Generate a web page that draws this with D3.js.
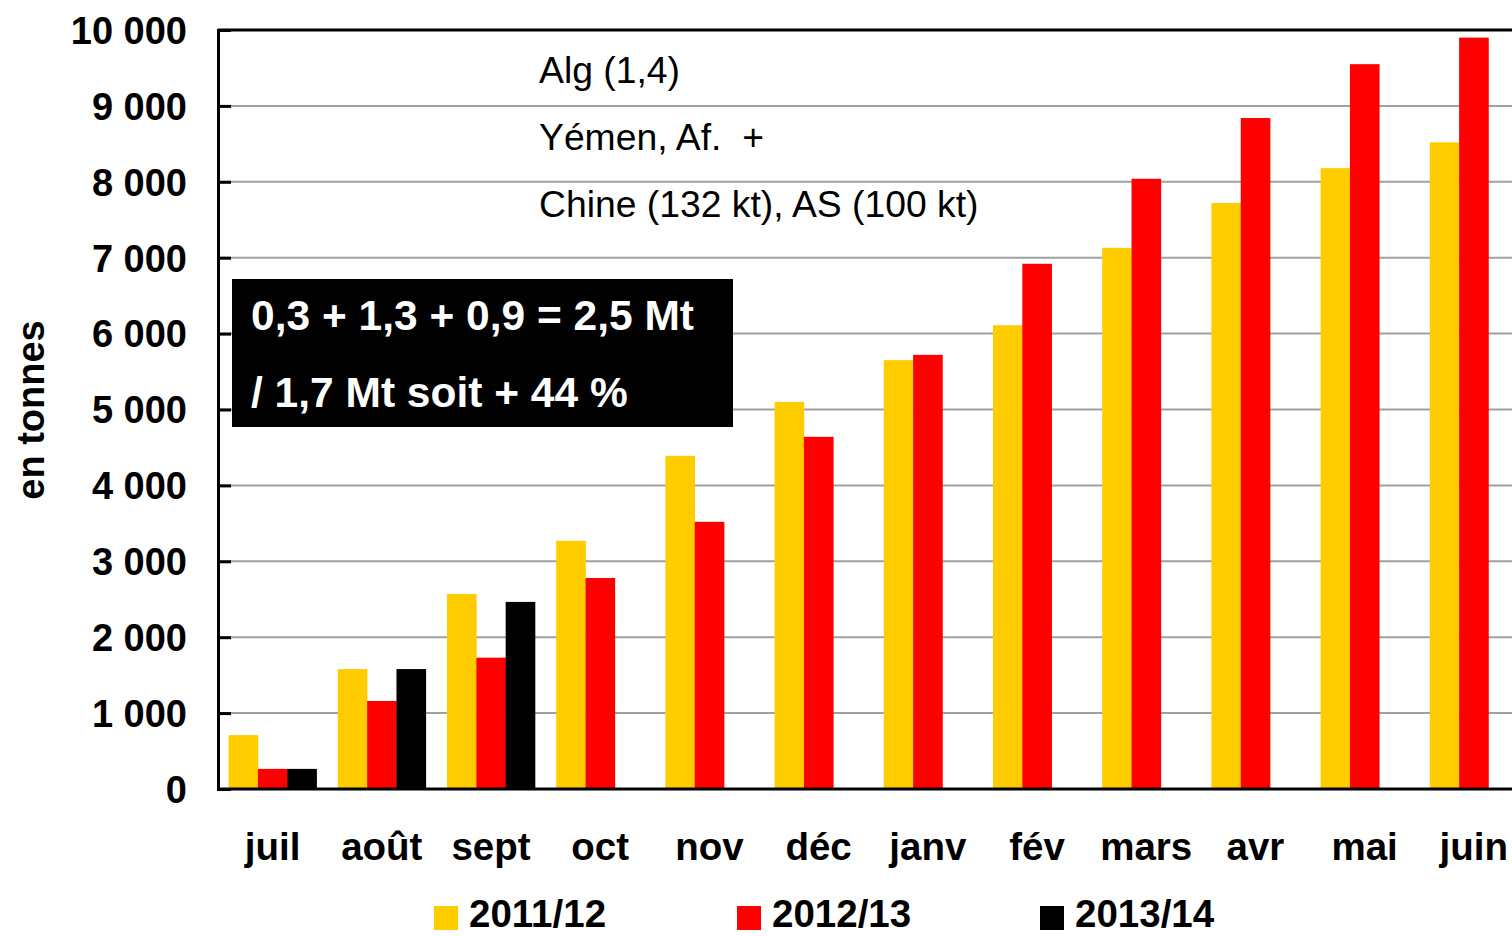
<!DOCTYPE html>
<html>
<head>
<meta charset="utf-8">
<script src="https://cdn.jsdelivr.net/npm/d3@7"></script>
<style>
html,body{margin:0;padding:0;background:#fff;overflow:hidden;}
svg{display:block;font-family:"Liberation Sans",Arial,sans-serif;}
</style>
</head>
<body>
<svg id="chart" width="1512" height="936"></svg>
<script>
const months = ["juil","août","sept","oct","nov","déc","janv","fév","mars","avr","mai","juin"];
const seriesNames = ["2011/12","2012/13","2013/14"];
const seriesColors = ["#FFCC00","#FF0000","#000000"];
const v2011 = [710,1580,2570,3270,4390,5100,5650,6110,7130,7720,8180,8520];
const v2012 = [265,1160,1730,2780,3520,4640,5720,6920,8040,8840,9550,9900];
const v2013 = [265,1580,2465,null,null,null,null,null,null,null,null,null];
const yTicks = [0,1000,2000,3000,4000,5000,6000,7000,8000,9000,10000];
const yTitle = "en tonnes";
const noteLines = ["Alg (1,4)","Yémen, Af.  +","Chine (132 kt), AS (100 kt)"];
const boxLines = ["0,3 + 1,3 + 0,9 = 2,5 Mt","/ 1,7 Mt soit + 44 %"];

const allSeries = [v2011,v2012,v2013];
const svg = d3.select("#chart");
const pLeft = 218, pTop = 30, pBottom = 789, pRight = 218 + 12*109.2;

const x = d3.scaleBand().domain(months).range([pLeft,pRight]).paddingInner(0.194).paddingOuter(0.097);
const xs = d3.scaleBand().domain(seriesNames).range([0,x.bandwidth()]).padding(0);
const y = d3.scaleLinear().domain([0,10000]).range([pBottom,pTop]);

// gridlines
svg.append("g").selectAll("line").data(yTicks.filter(t=>t>0 && t<10000)).join("line")
  .attr("x1",pLeft).attr("x2",1512).attr("y1",d=>y(d)).attr("y2",d=>y(d))
  .attr("stroke","#a0a0a0").attr("stroke-width",2);

// bars
const rows = [];
months.forEach((m,i)=>{
  seriesNames.forEach((s,j)=>{
    const v = allSeries[j][i];
    if(v!=null) rows.push({m,s,v,c:seriesColors[j]});
  });
});
svg.append("g").selectAll("rect").data(rows).join("rect")
  .attr("x",d=>x(d.m)+xs(d.s)).attr("width",xs.bandwidth()+0.3)
  .attr("y",d=>y(d.v)).attr("height",d=>y(0)-y(d.v))
  .attr("fill",d=>d.c);

// top border
svg.append("line").attr("x1",pLeft).attr("x2",1512).attr("y1",pTop).attr("y2",pTop)
  .attr("stroke","#000").attr("stroke-width",3);

// y axis
const yAxis = d3.axisLeft(y).tickValues(yTicks).tickSize(-13).tickPadding(31)
  .tickFormat(d=>d3.format(",")(d).replace(/,/g," "));
const gy = svg.append("g").attr("transform",`translate(${pLeft},0)`).call(yAxis);
gy.select(".domain").attr("stroke","#000").attr("stroke-width",3);
gy.selectAll(".tick line").attr("stroke","#000").attr("stroke-width",3);
gy.selectAll(".tick text").attr("font-family","'Liberation Sans',Arial,sans-serif")
  .attr("font-size",38).attr("font-weight","bold").attr("fill","#000").attr("dy","0.35em");

// x axis
const xAxis = d3.axisBottom(x).tickSize(0).tickPadding(0);
const gx = svg.append("g").attr("transform",`translate(0,${pBottom})`).call(xAxis);
gx.select(".domain").remove();
gx.append("line").attr("x1",pLeft).attr("x2",1512).attr("y1",0).attr("y2",0)
  .attr("stroke","#000").attr("stroke-width",3);
gx.selectAll(".tick text").attr("font-family","'Liberation Sans',Arial,sans-serif")
  .attr("font-size",38.5).attr("font-weight","bold").attr("fill","#000")
  .attr("y",71).attr("dy",0);

// y title
svg.append("text").attr("transform","translate(44,410) rotate(-90)")
  .attr("text-anchor","middle").attr("font-size",38).attr("font-weight","bold")
  .attr("fill","#000").text(yTitle);

// notes
svg.append("g").selectAll("text").data(noteLines).join("text")
  .attr("x",539).attr("y",(d,i)=>83+i*67).attr("font-size",37.3).attr("fill","#000")
  .attr("xml:space","preserve").style("white-space","pre").text(d=>d);

// black box
svg.append("rect").attr("x",232).attr("y",279).attr("width",501).attr("height",148).attr("fill","#000");
svg.append("g").selectAll("text").data(boxLines).join("text")
  .attr("x",251).attr("y",(d,i)=>330+i*77).attr("font-size",42.5).attr("font-weight","bold")
  .attr("fill","#fff").text(d=>d);

// legend
const legX = [434,737,1040];
const lg = svg.append("g").selectAll("g").data(seriesNames).join("g")
  .attr("transform",(d,i)=>`translate(${legX[i]},0)`);
lg.append("rect").attr("x",0).attr("y",906).attr("width",24).attr("height",24)
  .attr("fill",(d,i)=>seriesColors[i]);
lg.append("text").attr("x",35).attr("y",927).attr("font-size",38.5).attr("font-weight","bold")
  .attr("fill","#000").text(d=>d);
</script>
</body>
</html>
